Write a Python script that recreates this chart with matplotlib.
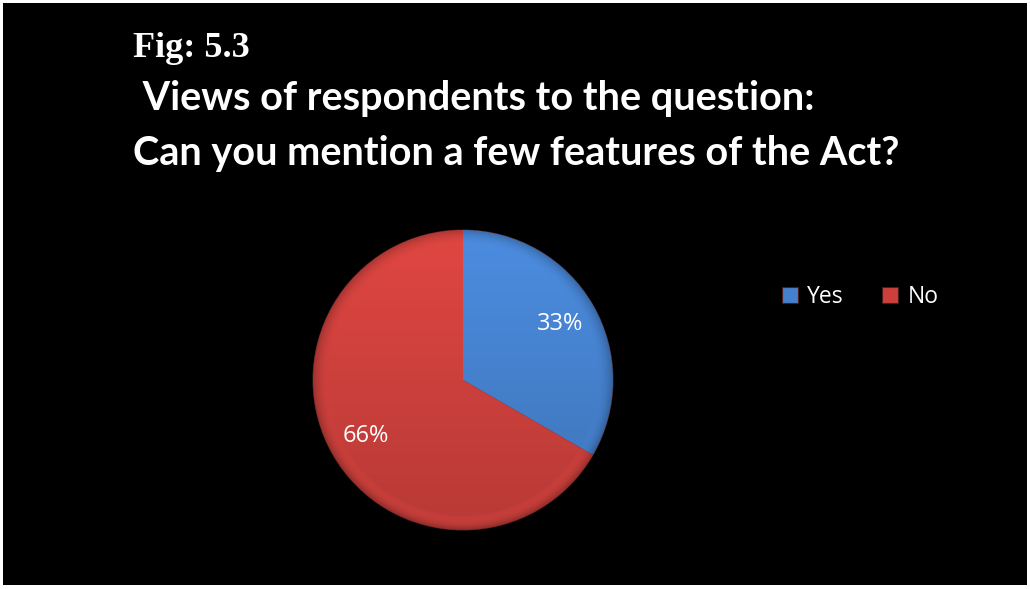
import numpy as np
import matplotlib.pyplot as plt
from matplotlib.colors import to_rgb
from matplotlib.patches import Rectangle

# ── Data ─────────────────────────────────────────────────────────────────────
categories = ["Yes", "No"]
shares = [33, 66]
base_colors = ["#4580cc", "#cc403c"]

fig_label = "Fig: 5.3"
title_lines = [" Views of respondents to the question:",
               "Can you mention a few features of the Act?"]
# ─────────────────────────────────────────────────────────────────────────────

fig = plt.figure(figsize=(10.30, 5.89), dpi=100)
fig.patch.set_facecolor("white")

# black slide panel inside a thin white margin
fig.patches.append(Rectangle((3 / 1030, 4 / 589), 1024 / 1030, 582 / 589,
                             transform=fig.transFigure, facecolor="black",
                             edgecolor="none", zorder=-1))

fig.text(133 / 1030, 1 - 57 / 589, fig_label, fontsize=26, fontweight="bold",
         family="Liberation Serif", color="white", va="baseline")
fig.text(133 / 1030, 1 - 110 / 589, title_lines[0], fontsize=28.5,
         fontweight="bold", family="Lato", color="white", va="baseline")
fig.text(133 / 1030, 1 - 165 / 589, title_lines[1], fontsize=28.5,
         fontweight="bold", family="Lato", color="white", va="baseline")

# pie axes: centre (463, 380) px, radius 150 px
ax = fig.add_axes([313 / 1030, 1 - 530 / 589, 300 / 1030, 300 / 589])
ax.set_xlim(-1, 1)
ax.set_ylim(-1, 1)
ax.axis("off")

wedges = ax.pie(
    shares,
    colors=base_colors,
    startangle=90,
    counterclock=False,
    radius=1,
    wedgeprops=dict(linewidth=0.8, edgecolor="#4a1c1c"),
)[0]

# soft bevel shading clipped to every wedge
n = 400
xs = np.linspace(-1, 1, n)
X, Y = np.meshgrid(xs, xs)
R = np.hypot(X, Y)
light = 1.0 + 0.10 * Y
rim = np.clip((R - 0.90) / 0.10, 0, 1)
light = light * (1 - 0.22 * rim ** 2) + 0.10 * rim * (1 - rim) * 4 * (-Y).clip(0)
for w, c in zip(wedges, base_colors):
    rgb = np.array(to_rgb(c))
    img = np.clip(light[..., None] * rgb[None, None, :], 0, 1)
    im = ax.imshow(img, extent=[-1, 1, -1, 1], origin="lower", zorder=1.5,
                   interpolation="bilinear")
    im.set_clip_path(w)
ax.set_xlim(-1, 1)
ax.set_ylim(-1, 1)

# percentage labels at 0.75 of the radius along each wedge's mid angle
for w, v in zip(wedges, shares):
    mid = np.deg2rad((w.theta1 + w.theta2) / 2)
    ax.text(0.75 * np.cos(mid), 0.75 * np.sin(mid), f"{v}%", color="white",
            fontsize=17, family="Open Sans", ha="center", va="center",
            zorder=3)

leg = fig.legend(wedges, categories, loc="center left",
                 bbox_to_anchor=(761 / 1030, 1 - 297 / 589), ncol=2,
                 frameon=False, handlelength=0.7, handleheight=0.7,
                 handletextpad=0.4, columnspacing=1.7,
                 prop={"family": "Open Sans", "size": 16.5})
for t in leg.get_texts():
    t.set_color("white")

fig.savefig("out.png", dpi=100, facecolor=fig.get_facecolor())
